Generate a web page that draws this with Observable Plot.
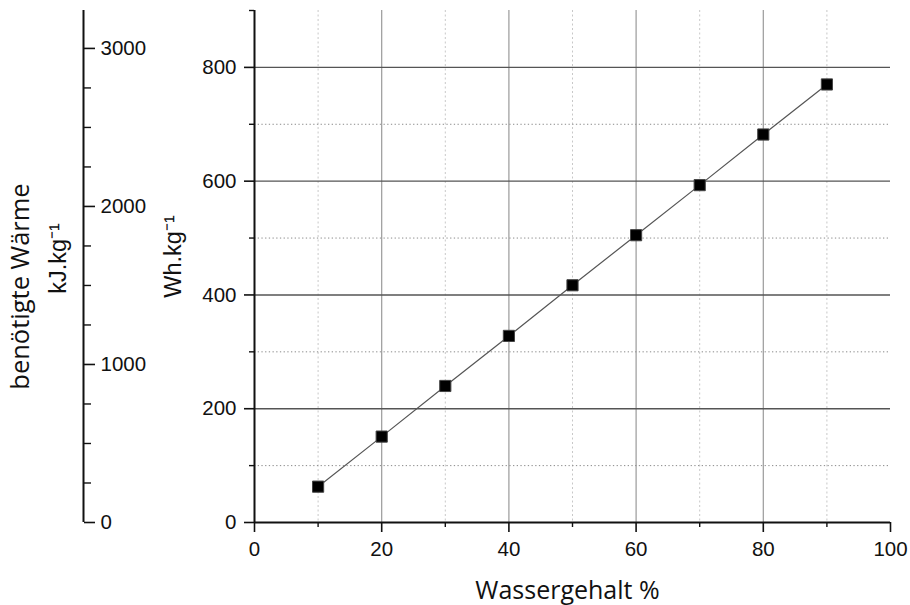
<!DOCTYPE html>
<html>
<head>
<meta charset="utf-8">
<script src="https://cdn.jsdelivr.net/npm/d3@7"></script>
<script src="https://cdn.jsdelivr.net/npm/@observablehq/plot@0.6"></script>
<style>
  html, body { margin: 0; padding: 0; background: #fff; }
</style>
</head>
<body>
<div id="chart"></div>
<script>
// Heat needed to evaporate the water content of a material, per kg
const waterContent = [10, 20, 30, 40, 50, 60, 70, 80, 90];      // Wassergehalt %
const heatWh = [63, 151, 240, 328, 417, 505, 593, 682, 770];    // Wh.kg-1

// Tick values
const xMajor = [0, 20, 40, 60, 80, 100];
const xMinor = [10, 30, 50, 70, 90];
const yMajor = [0, 200, 400, 600, 800];
const yMinor = [100, 300, 500, 700, 900];
const kjMajor = [0, 1000, 2000, 3000];
const kjMinor = [250, 500, 750, 1250, 1500, 1750, 2250, 2500, 2750];

// 1 Wh = 3.6 kJ
const WH_TO_KJ = 3.6;

// Labels
const labelX = "Wassergehalt %";
const labelWh = "Wh.kg⁻¹";
const labelHeat = "benötigte Wärme";
const labelKj = "kJ.kg⁻¹";

const points = waterContent.map((w, i) => ({w, q: heatWh[i]}));

// The kJ axis is drawn off to the left of the plotting frame
const kjShift = -807;

const tickFont = "'Liberation Sans', Arial, sans-serif";
const titleFont = "'Open Sans', 'Noto Sans', sans-serif";
const tickSizePx = 20.5;

const chart = Plot.plot({
  width: 910,
  height: 605,
  marginLeft: 254,
  marginRight: 20,
  marginTop: 10,
  marginBottom: 83,
  style: {fontFamily: tickFont, fontSize: "20.5px", color: "#111", background: "#fff"},
  x: {domain: [0, 100]},
  y: {domain: [0, 900]},
  marks: [
    // grid
    Plot.ruleX(xMinor, {stroke: "#c8c8c8", strokeDasharray: "2,2.5", strokeWidth: 1}),
    Plot.ruleX(xMajor.filter(v => v > 0 && v < 100), {stroke: "#9a9a9a", strokeWidth: 1.2}),
    Plot.ruleY(yMinor.filter(v => v < 900), {stroke: "#8a8a8a", strokeDasharray: "1.3,2.4", strokeWidth: 1}),
    Plot.ruleY(yMajor.filter(v => v > 0), {stroke: "#555", strokeWidth: 1.4}),

    // Wh axis
    Plot.axisY(yMajor, {anchor: "left", tickSize: 10, tickPadding: 8, label: null,
      fontSize: tickSizePx, fontFamily: tickFont, stroke: "#111", strokeWidth: 1.6}),
    Plot.axisY(yMinor, {anchor: "left", tickSize: 5, tickFormat: () => "", label: null,
      stroke: "#111", strokeWidth: 1.4}),

    // kJ axis
    Plot.ruleX([100], {dx: kjShift, stroke: "#111", strokeWidth: 2}),
    Plot.axisY(kjMajor.map(v => v / WH_TO_KJ), {
      anchor: "right", dx: kjShift, tickSize: 11, tickPadding: 6, label: null,
      fontSize: tickSizePx, fontFamily: tickFont,
      tickFormat: v => String(Math.round(v * WH_TO_KJ)), stroke: "#111", strokeWidth: 1.6
    }),
    Plot.axisY(kjMinor.map(v => v / WH_TO_KJ), {
      anchor: "right", dx: kjShift, tickSize: 7, tickFormat: () => "", label: null,
      stroke: "#111", strokeWidth: 1.4
    }),

    // x axis
    Plot.axisX(xMajor, {anchor: "bottom", tickSize: 10, tickPadding: 9, label: null,
      fontSize: tickSizePx, fontFamily: tickFont, stroke: "#111", strokeWidth: 1.6}),
    Plot.axisX(xMinor, {anchor: "bottom", tickSize: 5, tickFormat: () => "", label: null,
      stroke: "#111", strokeWidth: 1.4}),

    // axis lines
    Plot.ruleX([0], {stroke: "#111", strokeWidth: 2}),
    Plot.ruleY([0], {stroke: "#111", strokeWidth: 2}),

    // data
    Plot.line(points, {x: "w", y: "q", stroke: "#555", strokeWidth: 1.2}),
    Plot.dot(points, {x: "w", y: "q", symbol: "square", r: 6.3, fill: "#000", stroke: "#444", strokeWidth: 1}),

    // axis titles
    Plot.text([labelX], {frameAnchor: "bottom", dx: -5, dy: 68, lineAnchor: "middle", textAnchor: "middle",
      fontFamily: titleFont, fontSize: 25, fill: "#111"}),
    Plot.text([labelWh], {frameAnchor: "left", rotate: -90, dx: -81, dy: -10, lineAnchor: "middle", textAnchor: "middle",
      fontFamily: tickFont, fontSize: 23.5, fill: "#111"}),
    Plot.text([labelKj], {frameAnchor: "left", rotate: -90, dx: -196, dy: -8, lineAnchor: "middle", textAnchor: "middle",
      fontFamily: tickFont, fontSize: 23.5, fill: "#111"}),
    Plot.text([labelHeat], {frameAnchor: "left", rotate: -90, dx: -234, dy: 20, lineAnchor: "middle", textAnchor: "middle",
      fontFamily: titleFont, fontSize: 25.5, fill: "#111"})
  ]
});

document.getElementById("chart").appendChild(chart);
</script>
</body>
</html>
